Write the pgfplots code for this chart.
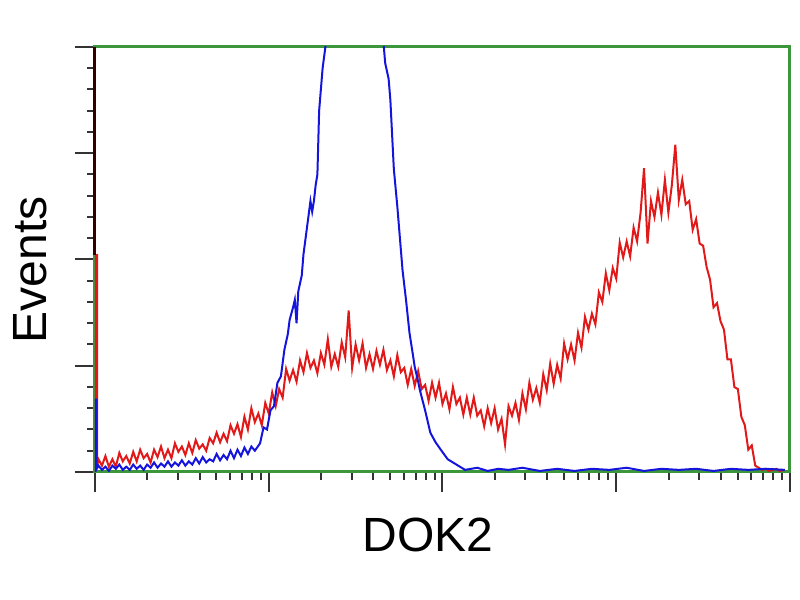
\documentclass[border=0pt]{standalone}
\usepackage{pgfplots}
\pgfplotsset{compat=1.18}
\usepackage{fontspec}
\setmainfont{Liberation Sans}
\definecolor{axgreen}{RGB}{60,150,60}
\definecolor{hblue}{RGB}{20,20,220}
\definecolor{hred}{RGB}{225,25,25}
\begin{document}
\begin{tikzpicture}
\begin{axis}[
  width=347.5pt, height=212.5pt, scale only axis,
  xmin=0, xmax=4, ymin=0, ymax=4,
  xtick={0,1,2,3,4}, ytick={0,1,2,3,4},
  minor xtick={0.301,0.477,0.602,0.699,0.778,0.845,0.903,0.954,
    1.301,1.477,1.602,1.699,1.778,1.845,1.903,1.954,
    2.301,2.477,2.602,2.699,2.778,2.845,2.903,2.954,
    3.301,3.477,3.602,3.699,3.778,3.845,3.903,3.954},
  minor ytick={0.2,0.4,0.6,0.8,1.2,1.4,1.6,1.8,2.2,2.4,2.6,2.8,3.2,3.4,3.6,3.8},
  xticklabels={}, yticklabels={},
  tick pos=left, tick align=outside,
  major tick length=10pt, minor tick length=4pt,
  every tick/.style={black!80, line width=1pt},
  axis line style={axgreen, line width=1.5pt},
]
\addplot[hred, line width=1pt] coordinates {
(0.00,0) (0.00,2.04) (0.012,2.04) (0.012,0.05)
(0.02,0.12) (0.04,0.06) (0.06,0.15) (0.08,0.05) (0.10,0.12) (0.12,0.05) (0.14,0.18)
(0.16,0.10) (0.18,0.15) (0.20,0.08) (0.22,0.19) (0.24,0.10) (0.26,0.21) (0.28,0.13)
(0.30,0.17) (0.32,0.09) (0.34,0.21) (0.36,0.14) (0.38,0.24) (0.40,0.13) (0.42,0.21)
(0.44,0.13) (0.46,0.27) (0.48,0.19) (0.50,0.24) (0.52,0.16) (0.54,0.27) (0.56,0.18)
(0.58,0.30) (0.60,0.22) (0.62,0.26) (0.64,0.20) (0.66,0.32) (0.68,0.27) (0.70,0.37)
(0.72,0.28) (0.74,0.36) (0.76,0.29) (0.78,0.44) (0.80,0.36) (0.82,0.45) (0.84,0.33)
(0.86,0.52) (0.88,0.40) (0.90,0.60) (0.92,0.47) (0.94,0.55) (0.96,0.44) (0.98,0.65)
(1.00,0.55) (1.02,0.75) (1.04,0.62) (1.06,0.78) (1.08,0.70) (1.10,0.97) (1.12,0.86)
(1.14,0.96) (1.16,0.85) (1.18,1.05) (1.20,0.94) (1.22,1.12) (1.24,0.98) (1.26,1.05)
(1.28,0.93) (1.30,1.12) (1.32,1.01) (1.34,1.25) (1.36,0.99) (1.38,1.11) (1.40,0.99)
(1.42,1.22) (1.44,1.08) (1.46,1.52) (1.48,0.98) (1.50,1.20) (1.52,1.05) (1.54,1.21)
(1.56,0.98) (1.58,1.11) (1.60,0.97) (1.62,1.14) (1.64,1.01) (1.66,1.15) (1.68,0.96)
(1.70,1.05) (1.72,0.90) (1.74,1.10) (1.76,0.94) (1.78,0.98) (1.80,0.82) (1.82,0.97)
(1.84,0.81) (1.86,0.95) (1.88,0.78) (1.90,0.82) (1.92,0.67) (1.94,0.84) (1.96,0.70)
(1.98,0.84) (2.00,0.64) (2.02,0.74) (2.04,0.59) (2.06,0.80) (2.08,0.64) (2.10,0.70)
(2.12,0.54) (2.14,0.70) (2.16,0.54) (2.18,0.70) (2.20,0.53) (2.22,0.58) (2.24,0.43)
(2.26,0.60) (2.28,0.46) (2.30,0.60) (2.32,0.40) (2.34,0.50) (2.36,0.26) (2.38,0.62)
(2.40,0.53) (2.42,0.65) (2.44,0.49) (2.46,0.74) (2.48,0.59) (2.50,0.84) (2.52,0.68)
(2.54,0.79) (2.56,0.65) (2.58,0.92) (2.60,0.77) (2.62,1.02) (2.64,0.83) (2.66,1.01)
(2.68,0.88) (2.70,1.21) (2.72,1.06) (2.74,1.20) (2.76,1.05) (2.78,1.31) (2.80,1.17)
(2.82,1.46) (2.84,1.34) (2.86,1.49) (2.88,1.39) (2.90,1.69) (2.92,1.60) (2.94,1.87)
(2.96,1.71) (2.98,1.92) (3.00,1.82) (3.02,2.16) (3.04,2.02) (3.06,2.17) (3.08,2.03)
(3.10,2.30) (3.12,2.17) (3.14,2.44) (3.16,2.86) (3.18,2.15) (3.20,2.55) (3.22,2.40)
(3.24,2.63) (3.26,2.42) (3.28,2.75) (3.30,2.44) (3.32,2.70) (3.34,3.08) (3.36,2.56)
(3.38,2.75) (3.40,2.52) (3.42,2.55) (3.44,2.28) (3.46,2.38) (3.48,2.15) (3.50,2.13)
(3.52,1.93) (3.54,1.81) (3.56,1.55) (3.58,1.59) (3.60,1.42) (3.62,1.34) (3.64,1.06)
(3.66,1.06) (3.68,0.80) (3.70,0.78) (3.72,0.52) (3.74,0.44) (3.76,0.21) (3.78,0.25)
(3.80,0.06) (3.82,0.04) (3.84,0.02) (3.86,0.03) (3.88,0.01) (3.90,0.02) (3.92,0.03)
(3.94,0.01) (3.97,0.02)
};
\addplot[hblue, line width=1pt] coordinates {
(0.00,0) (0.00,0.68) (0.01,0.68) (0.01,0.03)
(0.02,0.06) (0.04,0.02) (0.06,0.05) (0.08,0.01) (0.10,0.06) (0.12,0.03) (0.14,0.07)
(0.16,0.02) (0.18,0.05) (0.20,0.02) (0.22,0.07) (0.24,0.03) (0.26,0.06) (0.28,0.02)
(0.30,0.07) (0.32,0.04) (0.34,0.09) (0.36,0.04) (0.38,0.08) (0.40,0.05) (0.42,0.10)
(0.44,0.05) (0.46,0.09) (0.48,0.06) (0.50,0.11) (0.52,0.06) (0.54,0.10) (0.56,0.07)
(0.58,0.13) (0.60,0.08) (0.62,0.14) (0.64,0.09) (0.66,0.12) (0.68,0.10) (0.70,0.17)
(0.72,0.11) (0.74,0.16) (0.76,0.12) (0.78,0.20) (0.80,0.13) (0.82,0.21) (0.84,0.15)
(0.86,0.23) (0.88,0.17) (0.90,0.24) (0.92,0.20) (0.95,0.27) (0.97,0.42) (0.99,0.40)
(1.01,0.58) (1.03,0.62) (1.05,0.84) (1.07,0.90) (1.09,1.15) (1.11,1.30) (1.12,1.43)
(1.14,1.55) (1.15,1.62) (1.16,1.40) (1.17,1.70) (1.19,1.85) (1.20,2.05) (1.22,2.30)
(1.24,2.55) (1.25,2.45) (1.26,2.55) (1.27,2.70) (1.28,2.80) (1.29,3.40) (1.31,3.80)
(1.33,4.05) (1.38,4.60) (1.45,4.90) (1.52,4.90) (1.60,4.60) (1.66,4.05) (1.67,3.85)
(1.69,3.70) (1.70,3.50) (1.72,2.85) (1.74,2.50) (1.75,2.30) (1.77,1.90) (1.79,1.62)
(1.81,1.31) (1.83,1.10) (1.84,0.99) (1.86,0.85) (1.87,0.77) (1.90,0.58) (1.93,0.37)
(1.96,0.28) (1.99,0.21) (2.03,0.12) (2.07,0.08) (2.13,0.02)
(2.20,0.04) (2.26,0.01) (2.32,0.03) (2.38,0.02) (2.46,0.04) (2.56,0.01) (2.66,0.03)
(2.76,0.01) (2.86,0.03) (2.96,0.02) (3.06,0.04) (3.16,0.01) (3.26,0.03) (3.36,0.02)
(3.46,0.03) (3.56,0.01) (3.66,0.03) (3.76,0.02) (3.86,0.03) (3.97,0.02)
};
\end{axis}
\draw[line width=1.5pt, black!80!red] (0,108.4pt) -- (0,212.5pt);
\node[rotate=90, font=\fontsize{24}{28}\selectfont] at (-32.5pt,101pt) {Events};
\node[font=\fontsize{24}{28}\selectfont] at (166.5pt,-31.5pt) {DOK2};
\pgfresetboundingbox
\path[use as bounding box] (-47.5pt,-64pt) rectangle (352.5pt,236pt);
\end{tikzpicture}
\end{document}
